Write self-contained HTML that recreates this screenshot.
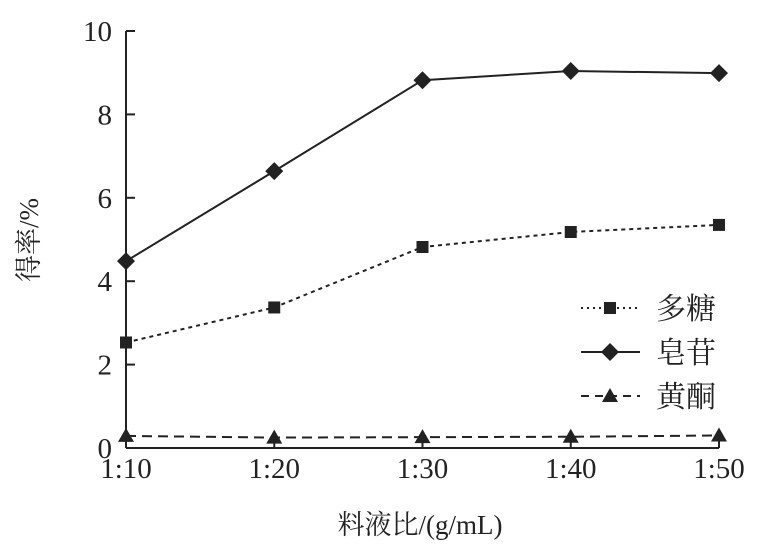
<!DOCTYPE html>
<html><head><meta charset="utf-8"><style>
body{margin:0;background:#fff}
svg text{font-family:"Liberation Serif","Noto Serif CJK SC",serif;fill:#222}
</style></head><body>
<svg id="c" width="767" height="552" viewBox="0 0 767 552"></svg>
<script>
const categories=["1:10","1:20","1:30","1:40","1:50"];
const polysaccharide=[2.53,3.37,4.82,5.18,5.35];
const saponin=[4.48,6.64,8.82,9.04,8.99];
const flavonoid=[0.29,0.25,0.26,0.27,0.3];
const yTicks=[0,2,4,6,8,10];
const NS="http://www.w3.org/2000/svg";
const svg=document.getElementById('c');
const x0=126,x1=719,y0=448,y1=31;
const xs=i=>x0+i*(x1-x0)/(categories.length-1);
const ys=v=>y0-v*(y0-y1)/10;
function mk(t,a,p){const e=document.createElementNS(NS,t);for(const k in a)e.setAttribute(k,a[k]);(p||svg).appendChild(e);return e;}
// axes
const ax=mk('g',{});


mk('line',{x1:x0,y1:y1,x2:x0,y2:y0,stroke:'#222','stroke-width':2},ax);
mk('line',{x1:x0,y1:y0,x2:x1,y2:y0,stroke:'#222','stroke-width':2},ax);
yTicks.forEach(v=>{
 mk('line',{x1:x0,y1:ys(v),x2:x0+9,y2:ys(v),stroke:'#222','stroke-width':2},ax);
 const t=mk('text',{x:x0-14,y:ys(v)+10,'text-anchor':'end','font-size':29});
 t.textContent=v;
 
 
});
categories.forEach((c,i)=>{
 mk('line',{x1:xs(i),y1:y0,x2:xs(i),y2:y0-9,stroke:'#222','stroke-width':2},ax);
 const t=mk('text',{x:xs(i),y:478,'text-anchor':'middle','font-size':29});
 t.textContent=c;
 
 
});
const xt=mk('text',{x:420,y:534,'text-anchor':'middle','font-size':27});
xt.textContent='料液比/(g/mL)';


const yt=mk('text',{x:0,y:0,'text-anchor':'middle','font-size':27,transform:'translate(38,240) rotate(-90)'});
yt.textContent='得率/%';


function marker(g,type,x,y){
 if(type==='sq')mk('rect',{x:x-6,y:y-6,width:12,height:12,fill:'#222'},g);
 else if(type==='di')mk('polygon',{points:`${x},${y-9} ${x+9},${y} ${x},${y+9} ${x-9},${y}`,fill:'#222'},g);
 else mk('polygon',{points:`${x},${y-8} ${x+8},${y+6} ${x-8},${y+6}`,fill:'#222'},g);
}
function series(vals,dash,type,name){
 const g=mk('g',{});
 
 
 mk('polyline',{points:vals.map((v,i)=>xs(i)+','+ys(v)).join(' '),fill:'none',stroke:'#222','stroke-width':2,'stroke-dasharray':dash},g);
 vals.forEach((v,i)=>marker(g,type,xs(i),ys(v)));
}
series(polysaccharide,'4 4','sq','series-polysaccharide');
series(saponin,'none','di','series-saponin');
series(flavonoid,'10 6','tr','series-flavonoid');
// legend
const lg=mk('g',{});


const items=[['多糖','2 4','sq',308],['皂苷','none','di',352],['黄酮','8 6','tr',396]];
items.forEach(it=>{
 mk('line',{x1:581,y1:it[3],x2:640,y2:it[3],stroke:'#222','stroke-width':2,'stroke-dasharray':it[1]},lg);
 marker(lg,it[2],610,it[3]);
 const t=mk('text',{x:656,y:it[3]+11,'font-size':30},lg);
 t.textContent=it[0];
 
 
});
</script>
</body></html>
